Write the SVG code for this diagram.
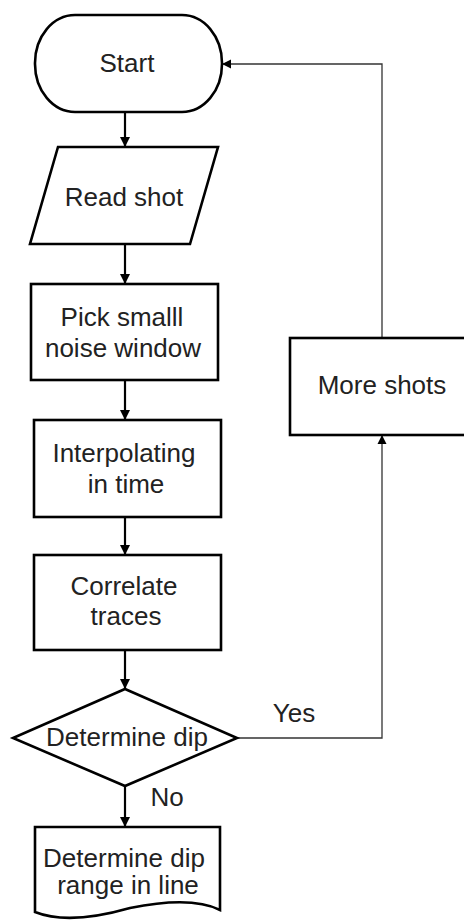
<svg xmlns="http://www.w3.org/2000/svg" width="464" height="920" viewBox="0 0 464 920">
  <defs>
    <marker id="arrow" markerUnits="userSpaceOnUse" markerWidth="11" markerHeight="11" refX="10" refY="5.5" orient="auto">
      <path d="M0,0.5 L10,5.5 L0,10.5 Z" fill="#000"/>
    </marker>
    <marker id="arrow-thin" markerUnits="userSpaceOnUse" markerWidth="10" markerHeight="10" refX="9" refY="5" orient="auto">
      <path d="M0,0.5 L9,5 L0,9.5 Z" fill="#000"/>
    </marker>
    <style>
      .node { fill: #fff; stroke: #000; stroke-width: 2.6; }
      .label { font-family: "Liberation Sans", Arial, sans-serif; font-size: 26px; fill: #222; text-anchor: middle; }
      .flow { fill: none; stroke: #000; stroke-width: 2.2; marker-end: url(#arrow); }
      .loop { fill: none; stroke: #333; stroke-width: 1.3; marker-end: url(#arrow-thin); }
    </style>
  </defs>
  <rect width="464" height="920" fill="#fff"/>

  <!-- connectors -->
  <g id="connectors">
    <path class="flow" d="M125,112 V147"/>
    <path class="flow" d="M125,244 V284"/>
    <path class="flow" d="M125,380 V420"/>
    <path class="flow" d="M125,517 V555"/>
    <path class="flow" d="M125,650 V689"/>
    <path class="flow" d="M125,786 V827"/>
    <path class="loop" d="M237,738 H382 V435"/>
    <path class="loop" d="M382,338 V64 H222"/>
    <text class="label" x="294" y="722">Yes</text>
    <text class="label" x="167" y="806">No</text>
  </g>

  <g id="start">
    <rect class="node" x="35" y="15" width="187" height="97" rx="40" ry="48"/>
    <text class="label" x="127" y="72">Start</text>
  </g>

  <g id="read-shot">
    <path class="node" d="M58,147 H218 L190,244 H30 Z"/>
    <text class="label" x="124" y="206">Read shot</text>
  </g>

  <g id="pick-window">
    <rect class="node" x="31" y="284" width="187" height="96"/>
    <text class="label" x="122" y="326">Pick smalll</text>
    <text class="label" x="123" y="357">noise window</text>
  </g>

  <g id="interpolate">
    <rect class="node" x="34" y="420" width="187" height="97"/>
    <text class="label" x="124" y="462">Interpolating</text>
    <text class="label" x="126" y="493">in time</text>
  </g>

  <g id="correlate">
    <rect class="node" x="34" y="555" width="187" height="95"/>
    <text class="label" x="124" y="595">Correlate</text>
    <text class="label" x="126" y="625">traces</text>
  </g>

  <g id="determine-dip">
    <path class="node" d="M125,689 L237,738 L125,786 L13,738 Z"/>
    <text class="label" x="127" y="746">Determine dip</text>
  </g>

  <g id="dip-range">
    <path class="node" d="M35,827 H220 V910 C200,900 170,900 130,908 C95,918 60,922 35,912 Z"/>
    <text class="label" x="124" y="867">Determine dip</text>
    <text class="label" x="128" y="894">range in line</text>
  </g>

  <g id="more-shots">
    <rect class="node" x="290" y="338" width="184" height="97"/>
    <text class="label" x="382" y="394">More shots</text>
  </g>
</svg>
